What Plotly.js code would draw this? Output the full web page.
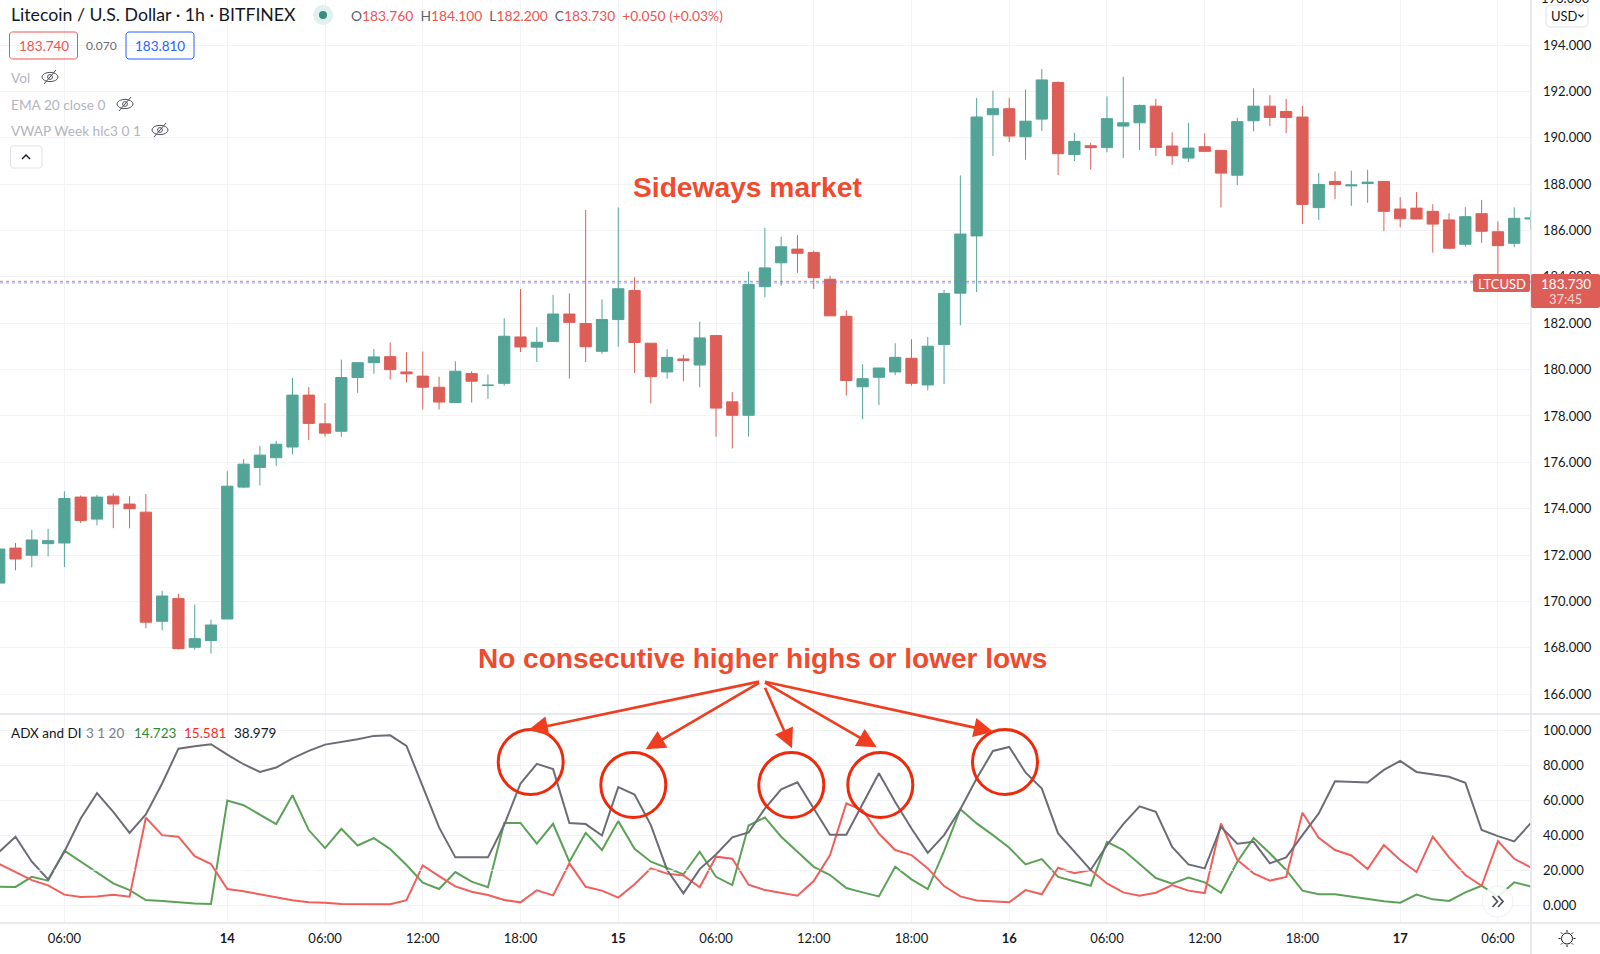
<!DOCTYPE html>
<html><head><meta charset="utf-8">
<script src="https://cdn.plot.ly/plotly-3.0.1.min.js"></script>
<style>html,body{margin:0;padding:0;background:#fff;overflow:hidden}#chart{width:1600px;height:954px}</style>
</head><body><div id="chart"></div>
<script>
const opens = [170.79,172.30,171.99,172.49,172.52,174.50,173.55,174.54,174.20,173.85,
169.14,170.12,168.02,168.31,169.24,174.93,175.78,176.20,176.66,178.90,
177.66,177.34,179.66,180.30,180.56,179.90,179.72,179.24,178.58,179.83,
179.31,179.41,181.41,180.97,181.21,182.40,181.99,180.79,182.16,183.41,
181.14,179.90,180.46,180.20,181.47,178.61,178.03,183.58,184.61,185.20,
185.05,183.90,182.30,179.26,179.67,179.90,180.49,179.34,181.08,183.30,
185.77,191.00,191.26,190.05,190.81,192.39,189.28,189.66,189.58,190.51,
190.65,191.37,189.65,189.13,189.62,189.46,188.39,190.74,191.37,191.14,
190.90,186.99,188.12,187.93,188.03,188.12,186.93,186.97,186.83,186.46,
185.41,186.73,185.95,185.45,186.50];
const closes = [172.26,171.83,172.65,172.62,174.44,173.49,174.50,174.20,174.00,169.10,
170.23,167.96,168.39,168.98,174.97,175.92,176.31,176.78,178.90,177.68,
177.26,179.66,180.30,180.55,180.00,179.82,179.24,178.60,179.93,179.50,
179.33,181.44,180.98,181.18,182.40,182.04,180.99,182.16,183.49,181.17,
179.70,180.53,180.39,181.37,178.34,178.03,183.67,184.39,185.30,185.02,
183.97,182.32,179.53,179.61,180.07,180.53,179.41,181.01,183.29,185.85,
190.90,191.26,190.08,190.72,192.50,189.32,189.85,189.58,190.83,190.65,
191.40,189.59,189.23,189.56,189.42,188.48,190.70,191.37,190.88,190.88,
187.13,187.99,187.99,187.97,188.09,186.83,186.51,186.50,186.28,185.24,
186.60,185.97,185.35,186.53,186.54];
const highs = [172.40,172.52,173.09,173.13,174.74,174.57,174.60,174.66,174.54,174.63,
170.46,170.33,169.86,169.21,175.62,176.14,176.71,176.93,179.64,179.24,
178.55,180.43,180.33,180.89,181.18,180.75,180.78,179.69,180.36,179.93,
179.79,182.22,183.48,181.83,183.22,183.29,186.89,183.03,187.00,183.98,
181.14,180.88,180.64,182.07,181.47,179.03,184.23,186.12,185.74,185.81,
185.13,184.05,182.56,180.23,180.07,181.14,181.31,181.41,183.44,188.38,
191.73,192.04,191.73,192.09,192.97,192.44,190.22,189.79,191.79,192.64,
191.44,191.68,190.24,190.65,190.19,189.46,190.87,192.14,191.84,191.68,
191.38,188.48,188.55,188.59,188.63,188.12,187.44,187.66,187.14,186.74,
187.01,187.32,186.40,187.00,186.88];
const lows = [168.78,171.34,171.47,171.94,171.48,173.38,173.28,173.16,173.15,168.84,
168.75,167.92,167.92,167.75,169.24,174.89,175.00,175.85,176.35,176.96,
177.11,177.10,179.00,179.82,179.57,179.44,178.28,178.28,178.58,178.58,
178.74,179.31,180.76,180.33,181.21,179.61,180.33,180.68,180.99,179.86,
178.54,179.61,179.50,179.24,177.11,176.60,177.11,183.12,183.62,184.18,
183.49,182.32,178.88,177.86,178.47,179.76,179.31,179.11,179.38,181.91,
183.35,189.22,189.82,189.06,190.30,188.40,189.00,188.63,189.38,189.13,
189.48,189.22,188.83,188.96,189.42,187.00,187.96,190.28,190.51,190.21,
186.28,186.46,187.36,187.07,187.20,185.98,186.14,186.50,185.05,185.21,
185.31,185.47,183.75,185.28,186.05];
const adx = [30.6,39.2,24.9,14.8,30.6,49.6,64.1,53.4,41.4,51.9,
69.6,89.5,90.9,92,86.1,80.6,76.2,78.7,84,88.2,
91.8,93.3,94.9,96.8,97.1,91.1,67.7,44.5,27.4,27.4,
27.4,46,69.6,80.8,77.8,47,46.4,39.9,67.5,63.3,
45.8,20.2,6.8,20.7,29,38.8,41.6,55.3,66.3,70.3,
55.3,40.3,40.3,58,75.5,59,43.9,30,40.1,54.9,
72.4,88.2,90.5,75.9,66.7,41.1,30.6,20.2,34.4,46.4,
56.5,53.4,33.3,23.4,21.1,44.9,35.2,36.3,24,27.4,
40.1,52.5,70.9,70.7,70.2,77.4,82.5,76.2,74.7,73.4,
70,43,39.5,36.5,46.8];
const plusDI = [10.6,10.5,16.3,14.1,31.2,24.9,18.6,12.5,8.7,3,
2.5,1.7,1.1,0.8,59.9,57.2,51.9,46.4,62.9,43,
32.7,43.7,34.2,38.4,32.1,23,12.9,9.3,19,13.5,
10.3,47.1,47.1,35.2,46.6,24.9,41.4,31.6,48.1,32.3,
24.9,21.1,17.7,30.6,16.3,11.6,45.6,50.2,39.2,30.6,
22,17.3,9.9,7.4,5.1,22,14.8,9.3,31,54.9,
46.8,40.1,32.9,23.4,26.4,16.2,13.7,11.2,36.3,31.6,
23.6,15.6,12.4,15.8,13.1,7.2,24.9,38.4,29.7,20.2,
8.4,6.3,6.3,4.9,3.6,2.3,1.5,6.1,3.4,2.5,
7.4,11.2,5,13.1,10.8];
const minusDI = [23.6,19.2,14.4,11.4,6.1,4.8,5.1,6.1,4.9,50,
40.1,39.2,28.1,23.6,9.3,8,6.3,4.9,2.9,1.7,
1.5,0.8,0.8,0.6,0.6,2.9,22.8,16.7,10.8,7.8,
5.9,3,1.7,8.6,5.7,24,10.6,8.4,4.4,12,
21.1,18.1,17.1,10.3,27.8,26.6,11.8,8.7,7,5.5,
13.9,28.7,58.2,54.4,41,31.6,28.7,21.1,11,5.1,
2.7,2.1,1.7,8.7,6.3,21.5,18.3,20.2,12.5,7.4,
5.5,7.2,11.6,8.4,7,46.8,25.9,18.3,14.1,16.2,
52.9,38.6,31.6,28.5,20.7,34.4,25.9,19,39.2,27.4,
17.3,11.2,36.7,26.6,21.7];
const barIndex = opens.map((_, i) => i);
const timeTickPos = [4,14,20,26,32,38,44,50,56,62,68,74,80,86,92];
const timeTickText = ['06:00','<b>14</b>','06:00','12:00','18:00','<b>15</b>','06:00','12:00','18:00','<b>16</b>','06:00','12:00','18:00','<b>17</b>','06:00'];
const priceTicks = [166,168,170,172,174,176,178,180,182,184,186,188,190,192,194];
const adxTicks = [0,20,40,60,80,100];

const FONT = 'Lato, "Noto Sans", sans-serif';
const W = 1600, H = 954, AX = 1531, SPLIT = 714, BOT = 923;
const UP = '#52a497', DOWN = '#dd5e57', ANN = '#f04a2f', RING = '#ee2a0b', GRID = '#f1f3f7', EDGE = '#e0e3eb';
const px = x => x / W, py = y => 1 - y / H;

const annotations = [];
function txt(x, y, text, size, color, anchor, extra) {
  annotations.push(Object.assign({xref:'paper', yref:'paper', x:px(x), y:py(y), text, showarrow:false,
    xanchor:anchor||'left', yanchor:'middle', borderpad:0, font:{family:FONT, size, color}}, extra||{}));
}
const shapes = [];
function line(x0,y0,x1,y1,color,width,layer){shapes.push({type:'line',xref:'paper',yref:'paper',x0:px(x0),y0:py(y0),x1:px(x1),y1:py(y1),line:{color,width},layer:layer||'above'});}
function circle(cx,cy,r,lineColor,width,fill){shapes.push({type:'circle',xref:'paper',yref:'paper',x0:px(cx-r),x1:px(cx+r),y0:py(cy-r),y1:py(cy+r),line:{color:lineColor,width},fillcolor:fill||'rgba(0,0,0,0)',layer:'above'});}
function pathOf(points,close){return points.map((p,i)=>(i?'L':'M')+px(p[0])+','+py(p[1])).join(' ')+(close?' Z':'');}
function poly(points,color,width,close,fill){shapes.push({type:'path',xref:'paper',yref:'paper',path:pathOf(points,close),line:{color,width},fillcolor:fill||'rgba(0,0,0,0)',layer:'above'});}
function roundRect(x0,y0,x1,y1,r,color,width,fill){
  const pts=[]; const arc=(cx,cy,a0)=>{for(let k=0;k<=4;k++){const a=a0+k*Math.PI/8;pts.push([cx+r*Math.cos(a),cy+r*Math.sin(a)]);}};
  arc(x1-r,y0+r,-Math.PI/2);arc(x1-r,y1-r,0);arc(x0+r,y1-r,Math.PI/2);arc(x0+r,y0+r,Math.PI);
  poly(pts,color,width,true,fill);
}
function eyeOff(cx,cy){
  const pts=[];for(let k=0;k<=24;k++){const a=k*Math.PI/12;pts.push([cx+8*Math.cos(a),cy+4.6*Math.sin(a)]);}
  poly(pts,'#50535e',1,true);
  circle(cx,cy,2.4,'#50535e',1);
  line(cx-6,cy+7,cx+6,cy-7,'#50535e',1);
}

/* panes */
line(0,SPLIT,W,SPLIT,EDGE,1.5);
line(0,BOT,W,BOT,EDGE,1.5);
line(AX,0,AX,H,EDGE,1.5);

/* bid / ask levels */
shapes.push({type:'line',xref:'paper',yref:'y',x0:0,x1:px(AX),y0:183.81,y1:183.81,line:{color:'#ef5350',width:1,dash:'dot'},layer:'above',opacity:.8});
shapes.push({type:'line',xref:'paper',yref:'y',x0:0,x1:px(AX),y0:183.74,y1:183.74,line:{color:'#6f88f2',width:1,dash:'dot'},layer:'above',opacity:.7});
shapes.push({type:'line',xref:'paper',yref:'y2',x0:0,x1:px(AX),y0:20,y1:20,line:{color:'rgba(255,255,255,.75)',width:1,dash:'dash'},layer:'above'});

/* header */
txt(9.5,15,'Litecoin / U.S. Dollar · 1h · BITFINEX',17.7,'#131722');
circle(323,15,10,'#e0f0ee',0,'#e0f0ee');
circle(323,15,4,'#3a8c82',0,'#3a8c82');
const G='#5d606b',R='#ef5350';
const sp=(c,t)=>'<span style="color:'+c+'">'+t+'</span>';
txt(349.5,16,sp(G,'O')+sp(R,'183.760')+'  '+sp(G,'H')+sp(R,'184.100')+'  '+sp(G,'L')+sp(R,'182.200')+'  '+sp(G,'C')+sp(R,'183.730')+'  '+sp(R,'+0.050 (+0.03%)'),13.8,R);
roundRect(9.5,32,77.5,59,3,'#ef5350',1);
txt(43.5,46,'183.740',13.5,'#ef5350','center');
txt(101,46,'0.070',12,'#6a6d78','center');
roundRect(126,32,194,59,3,'#2962ff',1);
txt(160,46,'183.810',13.5,'#2962ff','center');
txt(9.5,77,'Vol',13.7,'#b2b5be'); eyeOff(50,77);
txt(9.5,104,'EMA 20 close 0',13.7,'#b2b5be'); eyeOff(125,104);
txt(9.5,130,'VWAP Week hlc3 0 1',13.7,'#b2b5be'); eyeOff(160,130);
roundRect(10.5,146,42,168,3,'#dfe1e8',1);
poly([[22,159],[26,155],[30,159]],'#131722',1.4);

/* callouts */
annotations.push({xref:'paper',yref:'paper',x:px(747.5),y:py(187),text:'<b>Sideways market</b>',showarrow:false,xanchor:'center',yanchor:'middle',font:{family:'"Liberation Sans", Arial, sans-serif',size:28.2,color:ANN}});
annotations.push({xref:'paper',yref:'paper',x:px(762),y:py(658),text:'<b>No consecutive higher highs or lower lows</b>',showarrow:false,xanchor:'center',yanchor:'middle',font:{family:'"Liberation Sans", Arial, sans-serif',size:28,color:ANN}});
[[528.3,730],[645.7,749.3],[792,748.3],[876.7,747.3],[993.3,731.7]].forEach(t=>{
  annotations.push({xref:'paper',yref:'paper',x:px(t[0]),y:py(t[1]),text:' ',showarrow:true,arrowhead:2,arrowsize:1.5,arrowwidth:2.6,arrowcolor:'#ee3d1f',standoff:0,startstandoff:0,ax:762-t[0],ay:681-t[1],axref:'pixel',ayref:'pixel'});
});
[[530.7,762],[633.3,785],[791.3,785],[880.3,785],[1005,762]].forEach(c=>circle(c[0],c[1],32.5,RING,3));

/* ADX legend */
txt(10,732.5,'ADX and DI',13.5,'#131722');
txt(85,732.5,'3 1 20',13.5,'#7a7d88');
txt(133,732.5,'14.723',13.5,'#2e8b2e');
txt(183,732.5,'15.581',13.5,'#ff2a1f');
txt(233,732.5,'38.979',13.5,'#131722');

/* price scale extras */
txt(1565.5,-2,'196.000',13,'#131722','center');
roundRect(1546,5,1588,27,4,'#dfe1e8',1,'#ffffff');
txt(1550,16,'USD',13,'#131722');
poly([[1578.5,14.5],[1581,17],[1583.5,14.5]],'#131722',1.2);

roundRect(1473,274,1530,292,2,DOWN,0,DOWN);
txt(1501.5,283.5,'LTCUSD',13,'#ffffff','center');
roundRect(1531,274,1600,308,2,DOWN,0,DOWN);
txt(1565.5,284,'183.730',13.5,'#ffffff','center');
txt(1565.5,299.5,'37:45',13,'#f6d5d3','center');

/* scroll button and settings */
circle(1497.5,901.5,15.5,'#eef0f3',1,'rgba(255,255,255,.88)');
poly([[1492.5,896],[1497.5,901.5],[1492.5,907]],'#50535e',1.8);
poly([[1498,896],[1503,901.5],[1498,907]],'#50535e',1.8);
circle(1567,938.5,5.5,'#131722',1);
for(let k=0;k<8;k++){const a=k*Math.PI/4;line(1567+6.5*Math.cos(a),938.5+6.5*Math.sin(a),1567+8.5*Math.cos(a),938.5+8.5*Math.sin(a),'#131722',1);}

const traces = [
  {type:'candlestick',x:barIndex,open:opens,high:highs,low:lows,close:closes,xaxis:'x',yaxis:'y',
   increasing:{line:{color:UP,width:1},fillcolor:UP},decreasing:{line:{color:DOWN,width:1},fillcolor:DOWN},whiskerwidth:0,showlegend:false,hoverinfo:'skip'},
  {type:'scatter',mode:'lines',x:barIndex,y:plusDI,xaxis:'x',yaxis:'y2',line:{color:'#5ba257',width:2},showlegend:false,hoverinfo:'skip'},
  {type:'scatter',mode:'lines',x:barIndex,y:minusDI,xaxis:'x',yaxis:'y2',line:{color:'#ef5f5c',width:2},showlegend:false,hoverinfo:'skip'},
  {type:'scatter',mode:'lines',x:barIndex,y:adx,xaxis:'x',yaxis:'y2',line:{color:'#6c6c76',width:2},showlegend:false,hoverinfo:'skip'}
];

const axisFont = {family:FONT,size:13,color:'#131722'};
const layout = {
  width:W,height:H,margin:{l:0,r:0,t:0,b:0},paper_bgcolor:'#fff',plot_bgcolor:'#fff',showlegend:false,dragmode:false,boxgap:0.31,boxgroupgap:0,
  xaxis:{domain:[0,AX/W],range:[0.047,94.03],anchor:'y2',tickmode:'array',tickvals:timeTickPos,ticktext:timeTickText,showgrid:true,gridcolor:GRID,gridwidth:1,
    zeroline:false,showline:false,ticks:'',tickfont:axisFont,ticklabelstandoff:6,rangeslider:{visible:false},fixedrange:true},
  yaxis:{domain:[1-SPLIT/H,1],range:[165.14,195.95],side:'right',anchor:'x',tickmode:'array',tickvals:priceTicks,tickformat:'.3f',showgrid:true,gridcolor:GRID,gridwidth:1,
    zeroline:false,showline:false,ticks:'',tickfont:axisFont,ticklabelstandoff:11,fixedrange:true},
  yaxis2:{domain:[1-BOT/H,1-SPLIT/H],range:[-10.1,109.3],side:'right',anchor:'x',tickmode:'array',tickvals:adxTicks,tickformat:'.3f',showgrid:true,gridcolor:GRID,gridwidth:1,
    zeroline:false,showline:false,ticks:'',tickfont:axisFont,ticklabelstandoff:11,fixedrange:true},
  shapes,annotations
};
Plotly.newPlot('chart',traces,layout,{displayModeBar:false,staticPlot:true});
</script></body></html>
